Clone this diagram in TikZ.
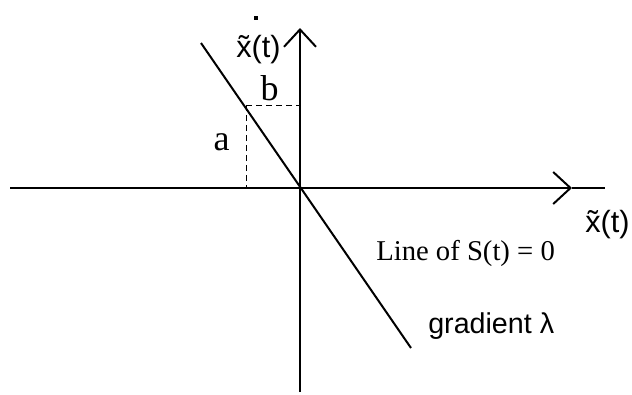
\documentclass[tikz,border=0pt]{standalone}
\usepackage{fontspec}
\setmainfont{Liberation Serif}
\setsansfont{Liberation Sans}
\usetikzlibrary{arrows.meta}

\tikzset{
  axis/.style={line width=1.5pt, -{Straight Barb[length=13pt, width=24pt, line width=1.5pt]}},
  guide/.style={line width=0.75pt, dash pattern=on 4.5pt off 3pt},
  serif lbl/.style={font=\fontsize{27}{30}\selectfont, inner sep=0pt},
  sans lbl/.style={font=\sffamily\fontsize{23}{26}\selectfont, inner sep=0pt}
}

\begin{document}
\begin{tikzpicture}[x=0.75pt, y=-0.75pt]
\useasboundingbox (0,0) rectangle (632,394);

% Axes (origin where the two axes cross)
\coordinate (origin) at (300,188);
\coordinate (h_start) at (10,188);
\coordinate (h_tip) at (572,188);
\coordinate (h_end) at (605,188);
\coordinate (v_start) at (300,392);
\coordinate (v_tip) at (300,28);
\draw[axis] (h_start) -- (h_tip);
\draw[line width=1.5pt] (h_tip) -- (h_end);
\draw[axis] (v_start) -- (v_tip);

% Line through the origin
\coordinate (line_top) at (201,43);
\coordinate (line_end) at (411,348);
\draw[line width=1.5pt] (line_top) -- (line_end);

% Dashed a/b triangle
\coordinate (corner) at (246,105);
\coordinate (on_axis_v) at (300,105);
\coordinate (on_axis_h) at (246,188);
\draw[guide] (corner) -- (on_axis_v);
\draw[guide] (corner) -- (on_axis_h);
\node[serif lbl, anchor=base] (lbl_b) at (269.5,100) {b};
\node[serif lbl, anchor=base] (lbl_a) at (221.5,150) {a};

% Axis labels (time-derivative dot above the vertical one)
\node[sans lbl, anchor=base west] (lbl_yaxis) at (236,57) {\~{x}(t)};
\fill (254,16) rectangle (258,20);
\node[sans lbl, anchor=base west] (lbl_xaxis) at (585,232) {\~{x}(t)};

% Line labels
\node[font=\fontsize{21.5}{24}\selectfont, inner sep=0pt, anchor=base west] (lbl_line) at (376,260) {Line of S(t) = 0};
\node[font=\sffamily\fontsize{21.5}{24}\selectfont, inner sep=0pt, anchor=base west] (lbl_grad) at (428,333) {gradient λ};

\end{tikzpicture}
\end{document}
